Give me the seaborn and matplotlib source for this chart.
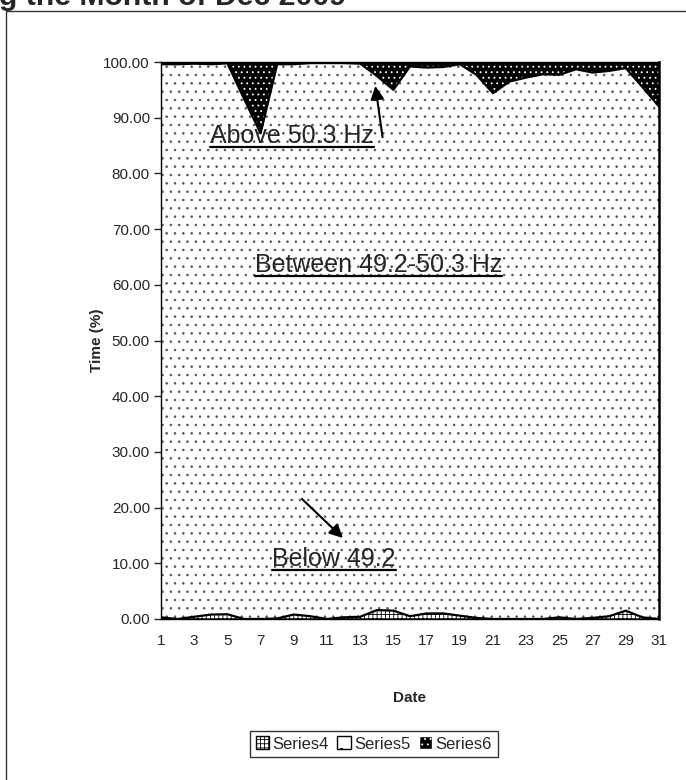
import numpy as np
import matplotlib
matplotlib.use('Agg')
import matplotlib.pyplot as plt
import seaborn as sns
from matplotlib.patches import Patch, Rectangle
from matplotlib.lines import Line2D

# daily share of time (%) in each frequency band, Dec 2009
days = list(range(1, 32))
below_49_2 = [0.3, 0.0, 0.4, 0.8, 0.85, 0.0, 0.0, 0.1, 0.8, 0.5,
              0.0, 0.3, 0.4, 1.6, 1.5, 0.5, 1.0, 1.0, 0.6, 0.2,
              0.0, 0.0, 0.0, 0.0, 0.3, 0.0, 0.2, 0.5, 1.5, 0.3, 0.0]
between = [99.3, 99.6, 99.3, 98.8, 98.9, 93.4, 87.2, 99.5, 98.8, 99.3,
           99.8, 99.5, 99.3, 95.9, 93.5, 98.7, 98.0, 98.1, 99.0, 97.5,
           94.4, 96.5, 97.2, 97.8, 97.4, 98.7, 97.9, 97.9, 97.4, 95.2, 92.0]
above_50_3 = [0.4, 0.4, 0.3, 0.4, 0.25, 6.6, 12.8, 0.4, 0.4, 0.2,
              0.2, 0.2, 0.3, 2.5, 5.0, 0.8, 1.0, 0.9, 0.4, 2.3,
              5.6, 3.5, 2.8, 2.2, 2.3, 1.3, 1.9, 1.6, 1.1, 4.5, 8.0]
series_names = ['Series4', 'Series5', 'Series6']
y_ticks = [0, 10, 20, 30, 40, 50, 60, 70, 80, 90, 100]
x_tick_days = list(range(1, 32, 2))

sns.set_style('white')
plt.rcParams['font.family'] = ['Liberation Sans', 'DejaVu Sans']
plt.rcParams['hatch.linewidth'] = 0.6

W, H = 686, 780
fig = plt.figure(figsize=(W / 100, H / 100), dpi=100)
ax = fig.add_axes([161 / W, 1 - 619 / H, 498 / W, 557 / H])

x = np.array(days)
lvl1 = np.array(below_49_2)
lvl2 = lvl1 + np.array(between)
lvl3 = lvl2 + np.array(above_50_3)

# stacked areas with Excel-like patterns
ax.fill_between(x, 0, lvl1, facecolor='white', edgecolor='black', hatch='++++', linewidth=0)
ax.fill_between(x, lvl1, lvl2, facecolor='white', edgecolor='#555555', hatch='..', linewidth=0)
ax.fill_between(x, lvl2, lvl3, facecolor='black', edgecolor='white', hatch='...', linewidth=0)
for lvl in (lvl1, lvl2, lvl3):
    sns.lineplot(x=x, y=lvl, color='black', lw=1.6, ax=ax)

ax.set_xlim(1, 31)
ax.set_ylim(0, 100)
ax.set_yticks(y_ticks)
ax.set_yticklabels([f'{v:.2f}' for v in y_ticks])
ax.set_xticks(x_tick_days)
ax.set_xticklabels([str(d) for d in x_tick_days])
ax.tick_params(axis='y', direction='out', length=5, width=1, labelsize=11, pad=3, left=True)
ax.tick_params(axis='x', length=0, labelsize=11, pad=11)
for s in ax.spines.values():
    s.set_color('black')
    s.set_linewidth(1)
ax.spines['right'].set_linewidth(1.8)
ax.set_xlabel('')
ax.set_ylabel('')

fig.text(97 / W, 1 - 340 / H, 'Time (%)', rotation=90, ha='center', va='center',
         fontsize=11, fontweight='bold')
fig.text(410 / W, 1 - 698 / H, 'Date', ha='center', va='center',
         fontsize=11, fontweight='bold')

# cut-off chart title and outer chart border
fig.text(346 / W, 1 - 5 / H, 'Frequency Profile during the Month of Dec 2009',
         ha='right', va='baseline', fontsize=21.8, fontweight='bold')
fig.add_artist(Rectangle((6 / W, -0.1), 2, 1.1 - 11 / H, transform=fig.transFigure,
                         fill=False, edgecolor='#333333', lw=1))

# labels with arrows
labels = [('Above 50.3 Hz', 3.95, 85.5), ('Between 49.2-50.3 Hz', 6.66, 62.3), ('Below 49.2', 7.69, 9.5)]
texts = [ax.text(lx, ly, t, fontsize=18, ha='left', va='baseline') for t, lx, ly in labels]
ax.annotate('', xy=(13.89, 96.2), xytext=(14.37, 86.0),
            arrowprops=dict(arrowstyle='-|>', color='black', lw=1.5, mutation_scale=20))
ax.annotate('', xy=(12.08, 14.2), xytext=(9.37, 21.9),
            arrowprops=dict(arrowstyle='-|>', color='black', lw=1.5, mutation_scale=20))

# legend
handles = [Patch(facecolor='white', edgecolor='black', hatch='++++'),
           Patch(facecolor='white', edgecolor='black', hatch='.'),
           Patch(facecolor='black', edgecolor='white', hatch='...')]
fig.legend(handles, series_names, loc='center', bbox_to_anchor=(374 / W, 1 - 744 / H),
           ncol=3, fontsize=12, frameon=True, fancybox=False, edgecolor='black',
           handlelength=0.8, handleheight=0.8, handletextpad=0.2, columnspacing=0.5,
           borderpad=0.35, borderaxespad=0)

# underline the label texts
fig.canvas.draw()
for t in texts:
    bb = t.get_window_extent()
    yy = (bb.y0 + 1) / H
    fig.add_artist(Line2D([bb.x0 / W, bb.x1 / W], [yy, yy], color='black', lw=1.6,
                          transform=fig.transFigure))

fig.savefig('out.png', dpi=100)
